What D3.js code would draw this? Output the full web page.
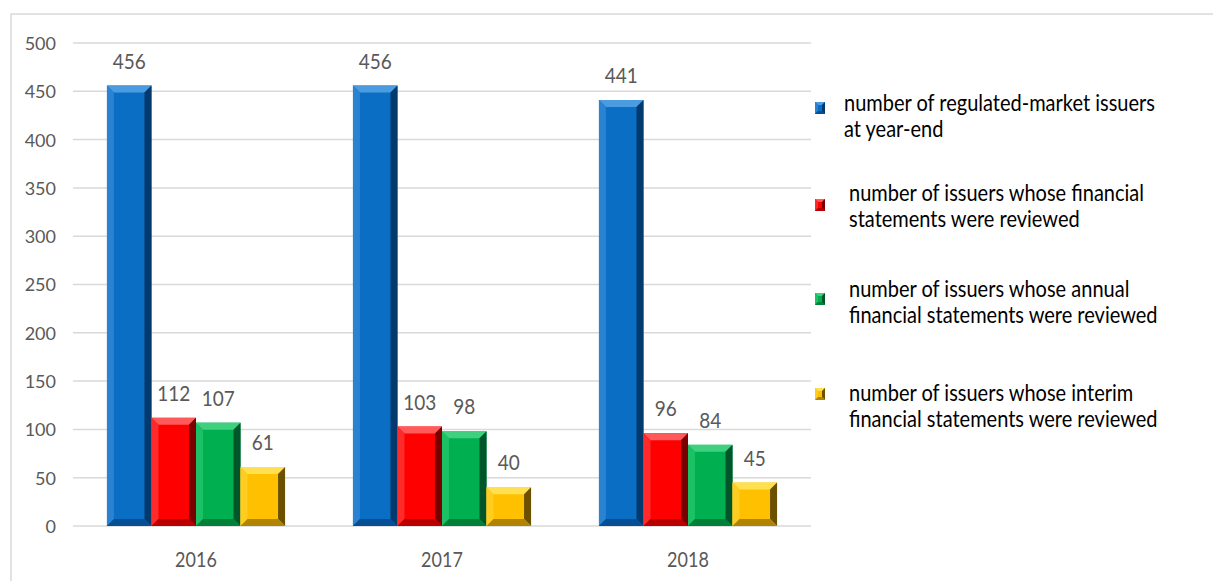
<!DOCTYPE html>
<html><head><meta charset="utf-8">
<script src="https://cdn.jsdelivr.net/npm/d3@7"></script>
<style>
body{margin:0;background:#fff;}
svg{display:block;font-family:Lato,"Noto Sans",sans-serif;}
</style></head><body>
<svg id="c" width="1213" height="581"></svg>
<script>
const years = ["2016","2017","2018"];
const seriesNames = [
  ["number of regulated-market issuers","at year-end"],
  ["number of issuers whose financial","statements were reviewed"],
  ["number of issuers whose annual","financial statements were reviewed"],
  ["number of issuers whose interim","financial statements were reviewed"]
];
const issuers = [456,456,441];
const reviewed = [112,103,96];
const annualReviewed = [107,98,84];
const interimReviewed = [61,40,45];
const yTicks = [0,50,100,150,200,250,300,350,400,450,500];

const series = [issuers, reviewed, annualReviewed, interimReviewed];
const colors = [
  {base:"#0a6fc4", top:"#4b9be0", left:"#2a82d0", right:"#033a6e", bottom:"#064f94"},
  {base:"#ff0000", top:"#ff5a5a", left:"#ff2a2a", right:"#7a0000", bottom:"#b80000"},
  {base:"#00b050", top:"#3fd07f", left:"#1cc065", right:"#00552a", bottom:"#008038"},
  {base:"#ffc000", top:"#ffe050", left:"#ffcc20", right:"#6b5000", bottom:"#b08400"}
];

const svg = d3.select("#c");
svg.append("rect").attr("x",11).attr("y",14).attr("width",1220).attr("height",600)
  .attr("fill","none").attr("stroke","#d9d9d9").attr("stroke-width",1.5);

const x0 = d3.scaleBand().domain(years).range([73,811]).paddingInner(0.276).paddingOuter(0.138);
const x1 = d3.scaleBand().domain(d3.range(4)).range([0,x0.bandwidth()]);
const y = d3.scaleLinear().domain([0,500]).range([526,43]);

svg.append("g").selectAll("line").data(yTicks).join("line")
  .attr("x1",73).attr("x2",811).attr("y1",d=>y(d)).attr("y2",d=>y(d))
  .attr("stroke","#d9d9d9").attr("stroke-width",1.5);

const yAxis = d3.axisLeft(y).tickValues(yTicks).tickSize(0).tickPadding(0);
const ya = svg.append("g").attr("transform","translate(56,0)").call(yAxis);
ya.select(".domain").remove();
ya.selectAll("text").attr("font-size",18).attr("fill","#595959")
  .attr("font-family","Lato,'Noto Sans',sans-serif").attr("dy","0.36em");

const xAxis = d3.axisBottom(x0).tickSize(0).tickPadding(0);
const xa = svg.append("g").attr("transform","translate(0,567)").call(xAxis);
xa.select(".domain").remove();
xa.selectAll("text").attr("font-size",18).attr("fill","#595959")
  .attr("font-family","Lato,'Noto Sans',sans-serif").attr("dy",0).attr("y",0)
  .attr("transform","scale(1,1.2)");

function bevelBar(g, x, yTop, w, h, c, b){
  b = Math.min(b, h/2, w/2);
  const x2 = x+w, yb = yTop+h;
  g.append("rect").attr("x",x).attr("y",yTop).attr("width",w).attr("height",h).attr("fill",c.base);
  g.append("polygon").attr("points",`${x},${yTop} ${x2},${yTop} ${x2-b},${yTop+b} ${x+b},${yTop+b}`).attr("fill",c.top);
  g.append("polygon").attr("points",`${x},${yTop} ${x+b},${yTop+b} ${x+b},${yb-b} ${x},${yb}`).attr("fill",c.left);
  g.append("polygon").attr("points",`${x2},${yTop} ${x2},${yb} ${x2-b},${yb-b} ${x2-b},${yTop+b}`).attr("fill",c.right);
  g.append("polygon").attr("points",`${x},${yb} ${x2},${yb} ${x2-b},${yb-b} ${x+b},${yb-b}`).attr("fill",c.bottom);
}

const bars = svg.append("g");
years.forEach((yr,i)=>{
  series.forEach((s,j)=>{
    const bx = x0(yr)+x1(j), bw = x1.bandwidth();
    const g = bars.append("g");
    bevelBar(g, bx, y(s[i]), bw, y(0)-y(s[i]), colors[j], 7);
    svg.append("text").attr("transform",`translate(${bx+bw/2},${y(s[i])-17}) scale(1,1.1)`)
      .attr("text-anchor","middle").attr("font-size",19).attr("fill","#595959").text(s[i]);
  });
});

// legend
const markerY = [108,205,299,394];
const baseY = [111,201,297,401];
const legTextX = [844,849,849,849];
seriesNames.forEach((lines,j)=>{
  const g = svg.append("g");
  bevelBar(g, 815, markerY[j]-6, 10, 12, colors[j], 3);
  lines.forEach((t,k)=>{
    g.append("text").attr("transform",`translate(${legTextX[j]},${baseY[j]+k*26}) scale(1,1.15)`)
      .attr("font-size",20).attr("fill","#000").text(t);
  });
});
</script>
</body></html>
